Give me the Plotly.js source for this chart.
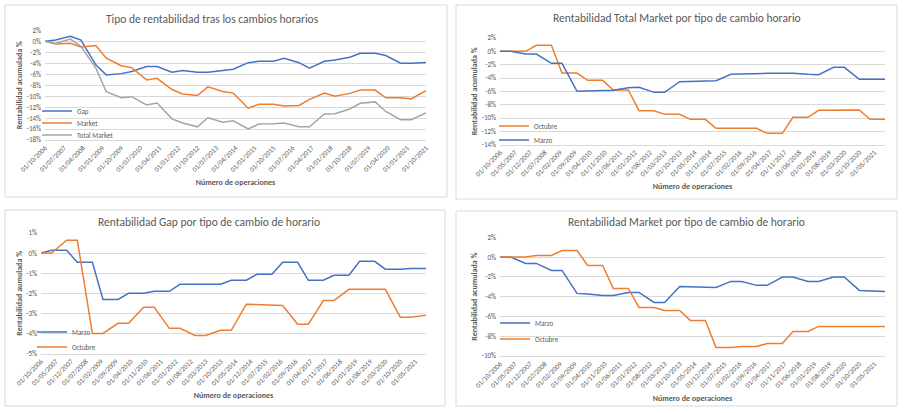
<!DOCTYPE html>
<html>
<head>
<meta charset="utf-8">
<script src="https://cdn.plot.ly/plotly-3.0.1.min.js"></script>
<style>html,body{margin:0;padding:0;background:#fff;}#chart{width:905px;height:413px;}</style>
</head>
<body>
<div id="chart"></div>
<script>
// ---------- DATA ----------
const dates = ['2006-10-01','2007-03-01','2007-10-01','2008-03-01','2008-10-01','2009-03-01','2009-10-01','2010-03-01','2010-10-01','2011-03-01','2011-10-01','2012-03-01','2012-10-01','2013-03-01','2013-10-01','2014-03-01','2014-10-01','2015-03-01','2015-10-01','2016-03-01','2016-10-01','2017-03-01','2017-10-01','2018-03-01','2018-10-01','2019-03-01','2019-10-01','2020-03-01','2020-10-01','2021-03-01','2021-10-01'];

// Chart 1: Tipo de rentabilidad tras los cambios horarios
const gap = [0, 0.25, 0.9, 0.2, -4.3, -6.15, -5.9, -5.5, -4.6, -4.6, -5.65, -5.35, -5.65, -5.65, -5.35, -5.1, -3.9, -3.65, -3.65, -3.1, -3.9, -4.9, -3.65, -3.4, -2.9, -2.2, -2.2, -2.6, -4.0, -4.0, -3.85];
const market = [0, -0.5, -0.38, -1.03, -0.78, -3.1, -4.45, -4.8, -7.05, -6.75, -8.8, -9.6, -9.9, -8.3, -9.15, -9.45, -12.2, -11.5, -11.5, -11.8, -11.7, -10.6, -9.45, -10.0, -9.5, -8.9, -8.9, -10.3, -10.3, -10.5, -9.0];
const totalMarket = [0, -0.4, 0.4, -0.9, -4.9, -9.2, -10.3, -10.1, -11.6, -11.25, -14.15, -14.9, -15.6, -13.95, -14.75, -14.5, -16.0, -15.1, -15.05, -14.9, -15.6, -15.6, -13.25, -13.2, -12.35, -11.3, -11.05, -12.8, -14.3, -14.3, -13.05];

// Chart 2: Rentabilidad Total Market por tipo de cambio horario
const tmOctubre = [0, 0, 0, 0.9, 0.9, -3.25, -3.25, -4.35, -4.35, -5.8, -5.8, -8.9, -8.9, -9.45, -9.45, -10.2, -10.2, -11.55, -11.55, -11.55, -11.55, -12.3, -12.3, -9.9, -9.9, -8.85, -8.85, -8.8, -8.8, -10.2, -10.2];
const tmMarzo = [0, 0, -0.4, -0.4, -1.8, -1.8, -6.0, -5.95, -5.85, -5.85, -5.45, -5.4, -6.15, -6.15, -4.55, -4.5, -4.4, -4.4, -3.45, -3.4, -3.3, -3.3, -3.3, -3.3, -3.45, -3.5, -2.4, -2.4, -4.2, -4.2, -4.2];

// Chart 3: Rentabilidad Gap por tipo de cambio de horario
const gapMarzo = [0, 0.14, 0.14, -0.46, -0.46, -2.3, -2.3, -2.0, -2.0, -1.9, -1.9, -1.55, -1.55, -1.55, -1.55, -1.35, -1.35, -1.05, -1.05, -0.46, -0.46, -1.35, -1.35, -1.1, -1.1, -0.41, -0.41, -0.8, -0.8, -0.76, -0.76];
const gapOctubre = [0, 0, 0.64, 0.64, -3.99, -3.99, -3.49, -3.49, -2.69, -2.69, -3.74, -3.74, -4.09, -4.09, -3.84, -3.84, -2.54, -2.56, -2.6, -2.6, -3.54, -3.54, -2.36, -2.36, -1.8, -1.8, -1.8, -1.8, -3.19, -3.19, -3.09];

// Chart 4: Rentabilidad Market por tipo de cambio de horario
const mkMarzo = [0, 0, -0.64, -0.64, -1.35, -1.35, -3.67, -3.72, -3.88, -3.88, -3.57, -3.57, -4.58, -4.58, -2.97, -3.0, -3.07, -3.07, -2.46, -2.46, -2.86, -2.86, -2.02, -2.02, -2.46, -2.46, -2.02, -2.02, -3.37, -3.4, -3.47];
const mkOctubre = [0, 0, 0, 0.17, 0.17, 0.67, 0.67, -0.84, -0.84, -3.17, -3.17, -5.09, -5.09, -5.39, -5.39, -6.4, -6.4, -9.13, -9.13, -9.03, -9.03, -8.73, -8.73, -7.52, -7.52, -7.01, -7.01, -7.01, -7.01, -7.01, -7.01];

// Tick values / labels
const xTickVals9 = ['2006-10-01','2007-07-01','2008-04-01','2009-01-01','2009-10-01','2010-07-01','2011-04-01','2012-01-01','2012-10-01','2013-07-01','2014-04-01','2015-01-01','2015-10-01','2016-07-01','2017-04-01','2018-01-01','2018-10-01','2019-07-01','2020-04-01','2021-01-01','2021-10-01'];
const xTickText9 = ['01/10/2006','01/07/2007','01/04/2008','01/01/2009','01/10/2009','01/07/2010','01/04/2011','01/01/2012','01/10/2012','01/07/2013','01/04/2014','01/01/2015','01/10/2015','01/07/2016','01/04/2017','01/01/2018','01/10/2018','01/07/2019','01/04/2020','01/01/2021','01/10/2021'];
const xTickVals7 = ['2006-10-01','2007-05-01','2007-12-01','2008-07-01','2009-02-01','2009-09-01','2010-04-01','2010-11-01','2011-06-01','2012-01-01','2012-08-01','2013-03-01','2013-10-01','2014-05-01','2014-12-01','2015-07-01','2016-02-01','2016-09-01','2017-04-01','2017-11-01','2018-06-01','2019-01-01','2019-08-01','2020-03-01','2020-10-01','2021-05-01'];
const xTickText7 = ['01/10/2006','01/05/2007','01/12/2007','01/07/2008','01/02/2009','01/09/2009','01/04/2010','01/11/2010','01/06/2011','01/01/2012','01/08/2012','01/03/2013','01/10/2013','01/05/2014','01/12/2014','01/07/2015','01/02/2016','01/09/2016','01/04/2017','01/11/2017','01/06/2018','01/01/2019','01/08/2019','01/03/2020','01/10/2020','01/05/2021'];

const yTickVals1 = [2, 0, -2, -4, -6, -8, -10, -12, -14, -16, -18];
const yTickText1 = ['2%', '0%', '-2%', '-4%', '-6%', '-8%', '-10%', '-12%', '-14%', '-16%', '-18%'];
const yTickVals2 = [2, 0, -2, -4, -6, -8, -10, -12, -14];
const yTickText2 = ['2%', '0%', '-2%', '-4%', '-6%', '-8%', '-10%', '-12%', '-14%'];
const yTickVals3 = [1, 0, -1, -2, -3, -4, -5];
const yTickText3 = ['1%', '0%', '-1%', '-2%', '-3%', '-4%', '-5%'];
const yTickVals4 = [2, 0, -2, -4, -6, -8, -10];
const yTickText4 = ['2%', '0%', '-2%', '-4%', '-6%', '-8%', '-10%'];

const titles = ['Tipo de rentabilidad tras los cambios horarios', 'Rentabilidad Total Market por tipo de cambio horario', 'Rentabilidad Gap por tipo de cambio de horario', 'Rentabilidad Market por tipo de cambio de horario'];
const xTitle = 'Número de operaciones';
const yTitles = ['Rentabilidad acumulada %', 'Rentabilidad acumulada %', 'Rentabilidad aumulada %', 'Rentabilidad acumulada %'];

// ---------- STYLE ----------
const FONT = 'Carlito, Calibri, Lato, sans-serif';
const TXT = '#595959';
const GRID = '#d9d9d9';
const BLUE = '#4472C4', ORANGE = '#ED7D31', GRAY = '#A5A5A5';
const W = 905, H = 413;
const px = v => v / W;
const py = v => 1 - v / H;

function line(name, y, color, xa, ya, leg) {
  return {x: dates, y: y, name: name, type: 'scatter', mode: 'lines',
    line: {color: color, width: 1.5}, xaxis: xa, yaxis: ya, legend: leg, hoverinfo: 'skip'};
}

const traces = [
  line('Gap', gap, BLUE, 'x', 'y', 'legend'),
  line('Market', market, ORANGE, 'x', 'y', 'legend2'),
  line('Total Market', totalMarket, GRAY, 'x', 'y', 'legend3'),
  line('Octubre', tmOctubre, ORANGE, 'x2', 'y2', 'legend4'),
  line('Marzo', tmMarzo, BLUE, 'x2', 'y2', 'legend5'),
  line('Marzo', gapMarzo, BLUE, 'x3', 'y3', 'legend6'),
  line('Octubre', gapOctubre, ORANGE, 'x3', 'y3', 'legend7'),
  line('Marzo', mkMarzo, BLUE, 'x4', 'y4', 'legend8'),
  line('Octubre', mkOctubre, ORANGE, 'x4', 'y4', 'legend9')
];

function xAxis(anchor, x0, x1, tv, tt) {
  return {anchor: anchor, domain: [px(x0), px(x1)], type: 'date',
    range: ['2006-10-01', '2021-10-01'], tickmode: 'array', tickvals: tv, ticktext: tt,
    tickangle: -45, ticks: '', showgrid: false, showline: true, linecolor: GRID, linewidth: 1,
    zeroline: false, tickfont: {family: FONT, size: 7, color: TXT},
    title: {text: xTitle, font: {family: FONT, size: 8, color: TXT, weight: 'bold'}, standoff: 6}};
}
function yAxis(anchor, top, bottom, range, tv, tt, title) {
  return {anchor: anchor, domain: [py(bottom), py(top)], range: range,
    tickmode: 'array', tickvals: tv, ticktext: tt, ticks: '', showgrid: true, gridcolor: GRID,
    gridwidth: 1, zeroline: false, showline: false, ticklabelstandoff: 3,
    tickfont: {family: FONT, size: 7, color: TXT},
    title: {text: title, font: {family: FONT, size: 8, color: TXT, weight: 'bold'}, standoff: 2}};
}
function legend(x, yc) {
  return {x: px(x), y: py(yc), xanchor: 'left', yanchor: 'middle', bgcolor: 'rgba(0,0,0,0)',
    borderwidth: 0, itemwidth: 30, font: {family: FONT, size: 7, color: TXT}, tracegroupgap: 0};
}
function box(x0, y0, x1, y1) {
  return {type: 'rect', xref: 'paper', yref: 'paper', x0: px(x0), x1: px(x1), y0: py(y1), y1: py(y0),
    line: {color: GRID, width: 1}, fillcolor: 'rgba(0,0,0,0)', layer: 'below'};
}
function ttl(text, xc, yc) {
  return {text: text, xref: 'paper', yref: 'paper', x: px(xc), y: py(yc), xanchor: 'center', yanchor: 'middle',
    showarrow: false, font: {family: FONT, size: 11.5, color: TXT}};
}

const layout = {
  width: W, height: H, margin: {l: 0, r: 0, t: 0, b: 0},
  paper_bgcolor: '#ffffff', plot_bgcolor: '#ffffff', showlegend: true, hovermode: false,
  font: {family: FONT, color: TXT},
  xaxis: xAxis('y', 45, 426, xTickVals9, xTickText9),
  yaxis: yAxis('x', 30.3, 140, [-18, 2], yTickVals1, yTickText1, yTitles[0]),
  xaxis2: xAxis('y2', 500, 885, xTickVals7, xTickText7),
  yaxis2: yAxis('x2', 38, 144.7, [-14, 2], yTickVals2, yTickText2, yTitles[1]),
  xaxis3: xAxis('y3', 41, 426, xTickVals7, xTickText7),
  yaxis3: yAxis('x3', 233, 353.7, [-5, 1], yTickVals3, yTickText3, yTitles[2]),
  xaxis4: xAxis('y4', 500, 885, xTickVals7, xTickText7),
  yaxis4: yAxis('x4', 237.3, 356, [-10, 2], yTickVals4, yTickText4, yTitles[3]),
  legend: legend(37, 111), legend2: legend(37, 123), legend3: legend(37, 135),
  legend4: legend(494, 126), legend5: legend(494, 140),
  legend6: legend(32, 332), legend7: legend(32, 347),
  legend8: legend(495, 323), legend9: legend(495, 339),
  shapes: [box(5, 5, 447, 197), box(456, 5, 897, 199), box(5, 210, 445, 406), box(456, 211, 897, 406)],
  annotations: [ttl(titles[0], 212, 19), ttl(titles[1], 677, 17.5), ttl(titles[2], 209, 222), ttl(titles[3], 686, 222.5)]
};

Plotly.newPlot('chart', traces, layout, {staticPlot: true, displayModeBar: false});
</script>
</body>
</html>
